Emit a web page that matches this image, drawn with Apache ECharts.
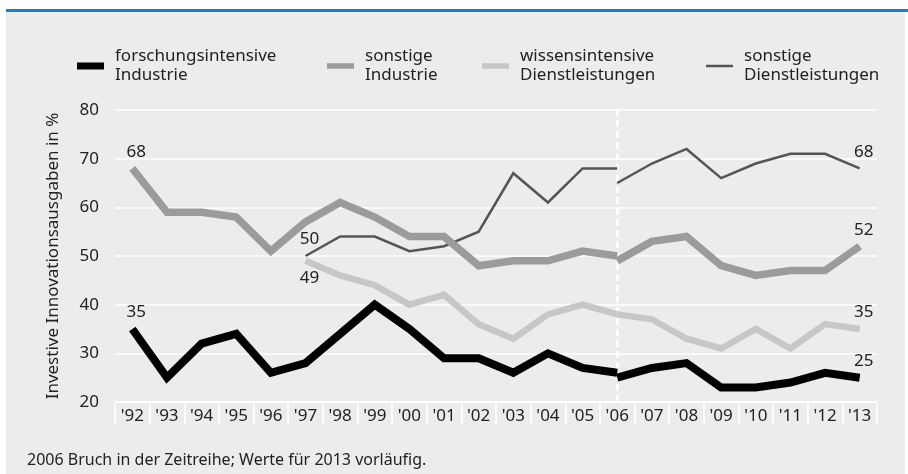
<!DOCTYPE html>
<html>
<head>
<meta charset="utf-8">
<script src="https://cdn.jsdelivr.net/npm/echarts@6/dist/echarts.min.js"></script>
<style>
html,body{margin:0;padding:0;background:#fff;}
#wrap{position:relative;width:908px;height:474px;}
#bg{position:absolute;left:6px;top:12px;width:899px;height:462px;background:#ececec;}
#bar{position:absolute;left:6px;top:9px;width:902px;height:3px;background:#1a80c9;}
#chart{position:absolute;left:0;top:0;width:908px;height:474px;}
</style>
</head>
<body>
<div id="wrap">
  <div id="bg"></div>
  <div id="bar"></div>
  <div id="chart"></div>
</div>
<script>
// Jahre
var years=["'92","'93","'94","'95","'96","'97","'98","'99","'00","'01","'02","'03","'04","'05","'06","'07","'08","'09","'10","'11","'12","'13"];
var yTicks=[20,30,40,50,60,70,80];
// bis 2006 (alte Reihe)
var forschungAlt=[35,25,32,34,26,28,34,40,35,29,29,26,30,27,26];
var sonstIndAlt=[68,59,59,58,51,57,61,58,54,54,48,49,49,51,50];
var wissenAlt=[null,null,null,null,null,49,46,44,40,42,36,33,38,40,38];
var sonstDlAlt=[null,null,null,null,null,50,54,54,51,52,55,67,61,68,68];
// ab 2006 (neue Reihe)
var forschungNeu=[25,27,28,23,23,24,26,25];
var sonstIndNeu=[49,53,54,48,46,47,47,52];
var wissenNeu=[38,37,33,31,35,31,36,35];
var sonstDlNeu=[65,69,72,66,69,71,71,68];

var names=["forschungsintensive\nIndustrie","sonstige\nIndustrie","wissensintensive\nDienstleistungen","sonstige\nDienstleistungen"];
var colors=["#000000","#9b9c9a","#c7c8c6","#555555"];
var widths=[8,7.5,6.5,2.5];
var iconH=[7,5.5,5.5,2.5];
var legendLeft=[77,327,482,706];
var font="'Noto Sans', 'Open Sans', sans-serif";
var footer="2006 Bruch in der Zeitreihe; Werte für 2013 vorläufig.";

// alte Reihe auf 22 Werte
var alt=function(arr){
  var d=arr.slice();
  while(d.length<years.length) d.push(null);
  return d;
};
// neue Reihe ab '06
var neu=function(arr){
  var d=[];
  for(var i=0;i<14;i++) d.push(null);
  return d.concat(arr);
};

var mk=function(idx,data){
  return {
    name:names[idx],type:'line',data:data,symbol:'none',connectNulls:false,
    lineStyle:{color:colors[idx],width:widths[idx],join:'miter',cap:'butt'},
    itemStyle:{color:colors[idx]},
    z:10-idx,animation:false
  };
};

// Beschriftungen: [Jahr, Wert, Lage]
var last=years.length-1;
var labelPts=[
  [years[0],sonstIndAlt[0],'top'],
  [years[0],forschungAlt[0],'top'],
  [years[5],sonstDlAlt[5],'top'],
  [years[5],wissenAlt[5],'bottom'],
  [years[last],sonstDlNeu[7],'top'],
  [years[last],sonstIndNeu[7],'top'],
  [years[last],wissenNeu[7],'top'],
  [years[last],forschungNeu[7],'top']
];

var series=[
  mk(3,alt(sonstDlAlt)),
  mk(3,neu(sonstDlNeu)),
  mk(2,alt(wissenAlt)),
  mk(2,neu(wissenNeu)),
  mk(1,alt(sonstIndAlt)),
  mk(1,neu(sonstIndNeu)),
  mk(0,alt(forschungAlt)),
  mk(0,neu(forschungNeu)),
  {
    type:'line',data:[],z:20,animation:false,
    markLine:{silent:true,symbol:['none','none'],label:{show:false},animation:false,
      lineStyle:{color:'#ffffff',width:2.5,type:[7,4]},
      data:[{xAxis:"'06"}]}
  },
  {
    type:'scatter',z:21,animation:false,silent:true,symbolSize:0,
    itemStyle:{color:'#222222',opacity:1},
    data:labelPts.map(function(p){
      return {value:[p[0],p[1]],label:{show:true,position:p[2],distance:p[2]=='bottom'?9:8,offset:[4,0],
        formatter:String(p[1]),color:'#222222',opacity:1,fontSize:17,fontFamily:font}};
    })
  }
];

var legends=names.map(function(n,i){
  return {
    data:[n],left:legendLeft[i],top:47,padding:0,itemWidth:27,itemHeight:iconH[i],
    icon:'rect',selectedMode:false,
    itemStyle:{color:colors[i],borderWidth:0},
    textStyle:{color:'#222',fontSize:17,lineHeight:19,fontFamily:font,padding:[0,0,0,6]}
  };
});

var chart=echarts.init(document.getElementById('chart'));
chart.setOption({
  backgroundColor:'transparent',
  animation:false,
  legend:legends,
  grid:{left:115,right:31,top:110,bottom:72},
  xAxis:{
    type:'category',data:years,boundaryGap:true,
    axisLine:{show:true,lineStyle:{color:'#ffffff',width:1.5}},
    axisTick:{show:true,interval:0,length:22,lineStyle:{color:'#ffffff',width:1.5}},
    axisLabel:{interval:0,margin:6,color:'#222',fontSize:17,fontFamily:font}
  },
  yAxis:{
    type:'value',min:yTicks[0],max:yTicks[yTicks.length-1],interval:10,
    name:'Investive Innovationsausgaben in %',nameLocation:'middle',nameGap:53,
    nameTextStyle:{color:'#222',fontSize:17,fontFamily:font},
    axisLine:{show:false},axisTick:{show:false},
    axisLabel:{margin:16,color:'#222',fontSize:17,fontFamily:font},
    splitLine:{lineStyle:{color:'#ffffff',width:1.5}}
  },
  graphic:[{
    type:'text',left:27,top:452,
    style:{text:footer,fill:'#222',fontSize:16,fontFamily:font}
  }],
  series:series
});
</script>
</body>
</html>
